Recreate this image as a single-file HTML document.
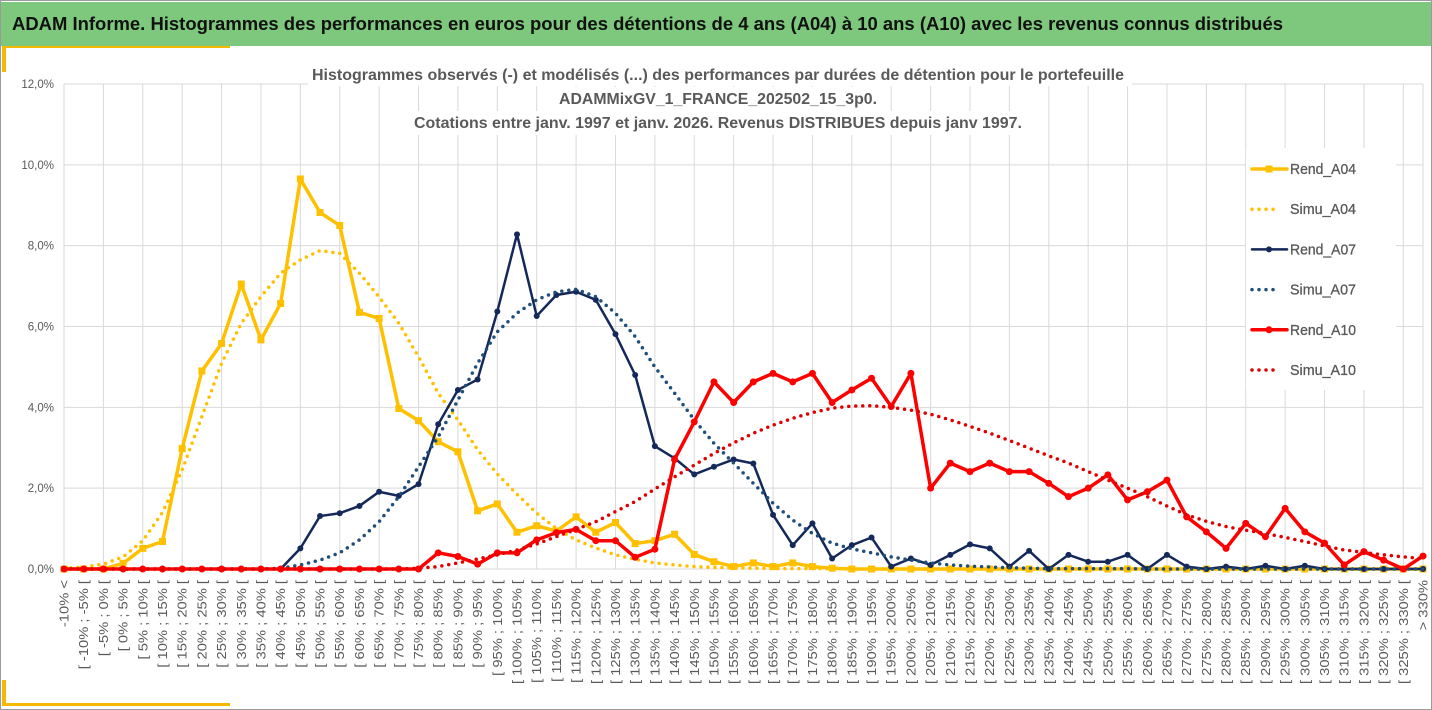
<!DOCTYPE html>
<html><head><meta charset="utf-8">
<style>
html,body{margin:0;padding:0;background:#fff;}
body{width:1432px;height:710px;overflow:hidden;position:relative;font-family:"Liberation Sans",sans-serif;}
svg{position:absolute;left:0;top:0;}
</style></head>
<body>
<svg id="chart" width="1432" height="710" viewBox="0 0 1432 710" xmlns="http://www.w3.org/2000/svg">
  <rect x="0.5" y="0.5" width="1431" height="709" fill="#fff" stroke="#9a9a9a"/>
  <rect x="1" y="2" width="1430" height="44" fill="#7dc87d"/>
  <text x="12" y="30" font-size="18" font-weight="bold" fill="#111" textLength="1271" lengthAdjust="spacingAndGlyphs">ADAM Informe. Histogrammes des performances en euros pour des détentions de 4 ans (A04) à 10 ans (A10) avec les revenus connus distribués</text>
  <rect x="4" y="46" width="226" height="2" fill="#f5b800"/>
  <rect x="2" y="46" width="4" height="26" fill="#f5b800"/>
  <rect x="2" y="680" width="4" height="26" fill="#f5b800"/>
  <rect x="2" y="703" width="228" height="3" fill="#f5b800"/>
  <g id="grid"></g>
  <g id="titlebox">
    <rect x="308" y="62" width="824" height="24" fill="#fff"/>
    <rect x="555" y="87" width="330" height="24" fill="#fff"/>
    <rect x="410" y="111" width="620" height="24" fill="#fff"/>
    <text x="718" y="80" text-anchor="middle" font-size="15.5" font-weight="bold" fill="#595959" textLength="812" lengthAdjust="spacingAndGlyphs">Histogrammes observés (-) et modélisés (...) des performances par durées de détention pour le portefeuille</text>
    <text x="718" y="104" text-anchor="middle" font-size="15.5" font-weight="bold" fill="#595959" textLength="318" lengthAdjust="spacingAndGlyphs">ADAMMixGV_1_FRANCE_202502_15_3p0.</text>
    <text x="718" y="128" text-anchor="middle" font-size="15.5" font-weight="bold" fill="#595959" textLength="608" lengthAdjust="spacingAndGlyphs">Cotations entre janv. 1997 et janv. 2026. Revenus DISTRIBUES depuis janv 1997.</text>
  </g>
  <g id="yaxis"></g>
  <g id="xaxis"></g>
  <g id="series"></g>
  <g id="legend"></g>
</svg>
<script>
const categories = [];
categories.push("-10% <");
for (let k = -10; k < 330; k += 5) { categories.push("[ " + k + "% ; " + (k + 5) + "% ["); }
categories.push("> 330%");
const yTicks = [0, 2, 4, 6, 8, 10, 12];
const yTickLabels = ["0,0%", "2,0%", "4,0%", "6,0%", "8,0%", "10,0%", "12,0%"];
const rendA04 = [0,0,0,0.14,0.51,0.68,2.98,4.9,5.58,7.05,5.67,6.57,9.65,8.82,8.5,6.35,6.2,3.97,3.67,3.15,2.9,1.44,1.61,0.91,1.07,0.94,1.29,0.91,1.15,0.63,0.70,0.86,0.36,0.18,0.06,0.15,0.06,0.15,0.06,0.02,0,0,0,0,0,0,0,0,0,0,0,0,0,0,0,0,0,0,0,0,0,0,0,0,0,0,0,0,0,0];
const simuA04 = [0.02,0.05,0.12,0.3,0.7,1.4,2.45,3.77,5.09,6.08,6.74,7.32,7.65,7.88,7.81,7.32,6.73,6.08,5.25,4.35,3.69,2.95,2.35,1.85,1.38,1.0,0.72,0.52,0.35,0.24,0.15,0.1,0.06,0.04,0.03,0.02,0.01,0.01,0.01,0.01,0,0,0,0,0,0,0,0,0,0,0,0,0,0,0,0,0,0,0,0,0,0,0,0,0,0,0,0,0,0];
const rendA07 = [0,0,0,0,0,0,0,0,0,0,0,0,0.51,1.31,1.38,1.56,1.91,1.81,2.1,3.58,4.43,4.69,6.37,8.28,6.26,6.78,6.86,6.66,5.81,4.8,3.04,2.74,2.34,2.53,2.71,2.61,1.34,0.59,1.13,0.26,0.59,0.78,0.06,0.26,0.1,0.35,0.61,0.51,0.06,0.45,0,0.35,0.18,0.18,0.35,0,0.35,0.06,0,0.06,0,0.08,0,0.08,0,0,0,0,0,0];
const simuA07 = [0,0,0,0,0,0,0,0,0,0,0,0.02,0.1,0.22,0.4,0.72,1.17,1.79,2.53,3.27,4.18,5.09,5.87,6.33,6.66,6.86,6.92,6.74,6.33,5.75,5.0,4.35,3.69,3.11,2.62,2.12,1.63,1.21,0.88,0.64,0.5,0.4,0.3,0.22,0.15,0.1,0.07,0.05,0.03,0.02,0.01,0.01,0.01,0.01,0.01,0,0,0,0,0,0,0,0,0,0,0,0,0,0,0];
const rendA10 = [0,0,0,0,0,0,0,0,0,0,0,0,0,0,0,0,0,0,0,0.40,0.31,0.12,0.40,0.40,0.72,0.9,0.98,0.70,0.70,0.29,0.49,2.71,3.64,4.63,4.12,4.63,4.84,4.63,4.84,4.12,4.43,4.72,4.02,4.84,2.0,2.62,2.41,2.62,2.41,2.41,2.12,1.79,2.0,2.33,1.71,1.91,2.2,1.29,0.92,0.51,1.13,0.8,1.5,0.92,0.64,0.1,0.43,0.22,0,0.32];
const simuA10 = [0,0,0,0,0,0,0,0,0,0,0,0,0,0,0,0,0,0,0.02,0.06,0.15,0.25,0.35,0.47,0.62,0.8,0.98,1.17,1.42,1.67,1.98,2.28,2.57,2.86,3.12,3.36,3.56,3.73,3.87,3.98,4.03,4.04,4.0,3.93,3.83,3.69,3.53,3.36,3.18,2.99,2.8,2.62,2.41,2.2,2.0,1.79,1.56,1.34,1.18,1.05,0.96,0.88,0.78,0.68,0.57,0.47,0.41,0.35,0.3,0.26];
const seriesNames = ["Rend_A04","Simu_A04","Rend_A07","Simu_A07","Rend_A10","Simu_A10"];

const NS = "http://www.w3.org/2000/svg";
const X0 = 64, X1 = 1423, Y0 = 569, YTOP = 84, YMAX = 12;
function xs(i) { return X0 + i * (X1 - X0) / (categories.length - 1); }
function ys(v) { return Y0 - v * (Y0 - YTOP) / YMAX; }
function mk(tag, attrs, parent) {
  const e = document.createElementNS(NS, tag);
  for (const k in attrs) e.setAttribute(k, attrs[k]);
  parent.appendChild(e);
  return e;
}
const grid = document.getElementById("grid");
const yaxis = document.getElementById("yaxis");
const xaxis = document.getElementById("xaxis");
const seriesG = document.getElementById("series");
const legend = document.getElementById("legend");

yTicks.forEach((t, k) => {
  const l = mk("line", {x1: X0, x2: X1, y1: ys(t), y2: ys(t), stroke: "#d9d9d9", "stroke-width": 1}, grid);
  
  
  const tx = mk("text", {x: 54, y: ys(t) + 4, "text-anchor": "end", "font-size": 11.5, fill: "#595959"}, yaxis);
  tx.textContent = yTickLabels[k];
  
  
});
for (let i = 0; i < categories.length; i += 2) {
  const l = mk("line", {x1: xs(i), x2: xs(i), y1: YTOP, y2: Y0, stroke: "#d9d9d9", "stroke-width": 1}, grid);
  
  
}
{
  const l = mk("line", {x1: X1, x2: X1, y1: YTOP, y2: Y0, stroke: "#d9d9d9", "stroke-width": 1}, grid);
  
  
}
categories.forEach((c, i) => {
  const t = mk("text", {x: 0, y: 0, "text-anchor": "end", "font-size": 12.5, fill: "#595959",
    transform: "translate(" + (xs(i) + 4.5) + ",580) rotate(-90) scale(1.18,1)"}, xaxis);
  t.textContent = c;
  
  
});

const styles = {
  Rend_A04: {data: rendA04, color: "#ffc000", w: 3.5, marker: "square", dash: null},
  Simu_A04: {data: simuA04, color: "#ffc000", w: 3.5, marker: null, dash: "0 7"},
  Rend_A07: {data: rendA07, color: "#14285a", w: 2.5, marker: "circle", dash: null, r: 3},
  Simu_A07: {data: simuA07, color: "#1f4e79", w: 3.5, marker: null, dash: "0 7"},
  Rend_A10: {data: rendA10, color: "#ff0000", w: 3.5, marker: "circle", dash: null, r: 3.5},
  Simu_A10: {data: simuA10, color: "#e00000", w: 3.5, marker: null, dash: "0 7"}
};
seriesNames.forEach(name => {
  const s = styles[name];
  const g = mk("g", {}, seriesG);
  
  
  const pts = s.data.map((v, i) => xs(i).toFixed(2) + "," + ys(v).toFixed(2)).join(" ");
  const attrs = {points: pts, fill: "none", stroke: s.color, "stroke-width": s.w, "stroke-linejoin": "round", "stroke-linecap": "round"};
  if (s.dash) attrs["stroke-dasharray"] = s.dash;
  const pl = mk("polyline", attrs, g);
  
  
  if (s.marker) {
    s.data.forEach((v, i) => {
      let m;
      if (s.marker === "square") m = mk("rect", {x: xs(i) - 3.5, y: ys(v) - 3.5, width: 7, height: 7, fill: s.color}, g);
      else m = mk("circle", {cx: xs(i), cy: ys(v), r: s.r, fill: s.color}, g);
      
      
    });
  }
});

const lb = mk("rect", {x: 1246, y: 148, width: 150, height: 242, fill: "#fff"}, legend);


seriesNames.forEach((name, k) => {
  const s = styles[name];
  const y = 169 + k * 40.2;
  const g = mk("g", {}, legend);
  
  
  const a = {x1: 1252, x2: 1287, y1: y, y2: y, stroke: s.color, "stroke-width": s.w, "stroke-linecap": "round"};
  if (s.dash) { a["stroke-dasharray"] = s.dash; a.x2 = 1280; }
  mk("line", a, g);
  if (s.marker === "square") mk("rect", {x: 1265.5, y: y - 3.5, width: 7, height: 7, fill: s.color}, g);
  else if (s.marker) mk("circle", {cx: 1269, cy: y, r: s.r, fill: s.color}, g);
  const t = mk("text", {x: 1290, y: y + 5, "font-size": 14.5, fill: "#595959", stroke: "#595959", "stroke-width": 0.3, textLength: 66, lengthAdjust: "spacingAndGlyphs"}, g);
  t.textContent = name;
});
</script>
</body></html>
